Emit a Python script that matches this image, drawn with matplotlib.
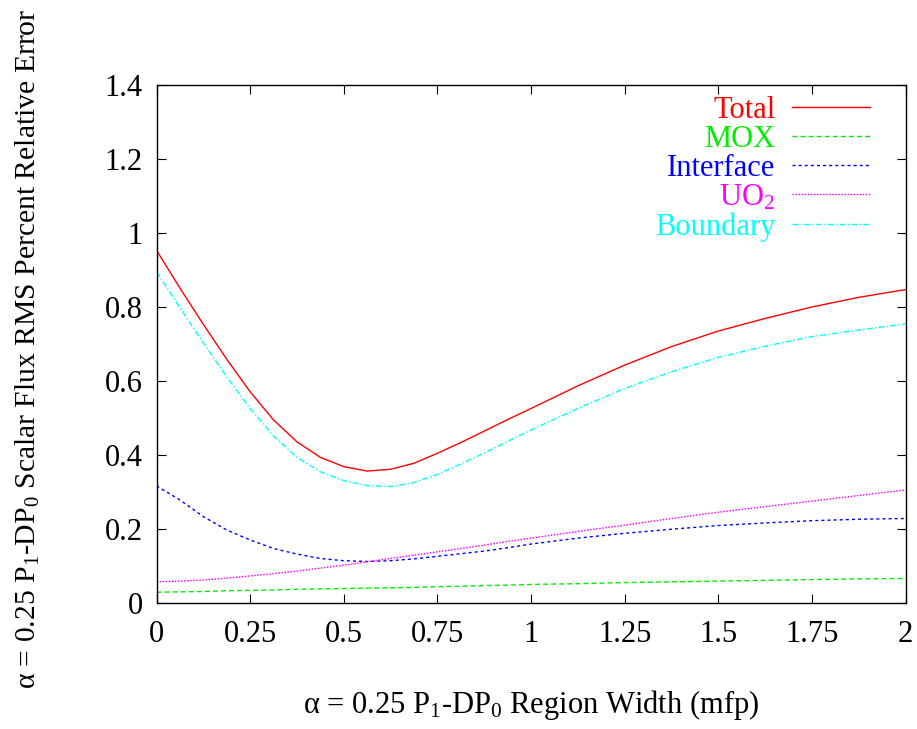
import matplotlib
matplotlib.use("Agg")
import matplotlib.pyplot as plt

plt.rcParams['font.family'] = ['Liberation Serif', 'DejaVu Serif']
plt.rcParams['mathtext.fontset'] = 'custom'
plt.rcParams['mathtext.rm'] = 'Liberation Serif'
plt.rcParams['mathtext.it'] = 'Liberation Serif:italic'
plt.rcParams['mathtext.default'] = 'regular'

# region width (mfp)
width = [0, 0.0625, 0.125, 0.1875, 0.25, 0.3125, 0.375, 0.4375, 0.5, 0.5625,
         0.625, 0.6875, 0.75, 0.8125, 0.875, 0.9375, 1.0, 1.125, 1.25, 1.375,
         1.5, 1.625, 1.75, 1.875, 2.0]

total = [0.953, 0.851, 0.753, 0.659, 0.571, 0.495, 0.436, 0.394, 0.369, 0.357,
         0.362, 0.378, 0.405, 0.434, 0.465, 0.496, 0.526, 0.587, 0.643, 0.693,
         0.735, 0.769, 0.800, 0.826, 0.847]
mox = [0.030, 0.031, 0.032, 0.034, 0.035, 0.036, 0.038, 0.039, 0.040, 0.041,
       0.042, 0.043, 0.045, 0.046, 0.048, 0.049, 0.051, 0.053, 0.056, 0.058,
       0.060, 0.062, 0.064, 0.066, 0.067]
interface = [0.317, 0.279, 0.234, 0.198, 0.171, 0.148, 0.133, 0.121, 0.115, 0.113,
             0.115, 0.120, 0.127, 0.134, 0.141, 0.150, 0.160, 0.176, 0.189, 0.200,
             0.210, 0.217, 0.223, 0.227, 0.229]
uo2 = [0.058, 0.060, 0.063, 0.068, 0.074, 0.080, 0.087, 0.095, 0.103, 0.112,
       0.121, 0.130, 0.139, 0.148, 0.157, 0.167, 0.176, 0.194, 0.211, 0.229,
       0.246, 0.261, 0.276, 0.291, 0.306]
boundary = [0.895, 0.798, 0.703, 0.611, 0.526, 0.452, 0.394, 0.355, 0.331, 0.318,
            0.315, 0.326, 0.348, 0.376, 0.406, 0.437, 0.468, 0.526, 0.580, 0.625,
            0.664, 0.694, 0.720, 0.738, 0.754]

fig = plt.figure(figsize=(9.17, 7.29), dpi=100)
ax = fig.add_axes([0.1707, 0.1724, 0.8168, 0.7114])

ax.plot(width, total, color='#ff0000', lw=1.0, label='Total')
ax.plot(width, mox, color='#00ee00', lw=1.0, dashes=(3.6, 2.2), label='MOX')
ax.plot(width, interface, color='#0000ff', lw=1.0, dashes=(2.2, 2.2), label='Interface')
ax.plot(width, uo2, color='#ff00ff', lw=1.0, dashes=(1.1, 1.1), label='UO$_2$')
ax.plot(width, boundary, color='#00ffff', lw=1.0, dashes=(4.3, 1.6, 1.0, 1.6), label='Boundary')

ax.set_xlim(0, 2)
ax.set_ylim(0, 1.4)
ax.set_xticks([0, 0.25, 0.5, 0.75, 1, 1.25, 1.5, 1.75, 2])
ax.set_xticklabels(['0', '0.25', '0.5', '0.75', '1', '1.25', '1.5', '1.75', '2'])
ax.set_yticks([0, 0.2, 0.4, 0.6, 0.8, 1.0, 1.2, 1.4])
ax.set_yticklabels(['0', '0.2', '0.4', '0.6', '0.8', '1', '1.2', '1.4'])
ax.tick_params(direction='in', length=6.5, width=0.8, top=True, right=True,
               labelsize=22, pad=10)
ax.tick_params(axis='x', pad=12)
for s in ax.spines.values():
    s.set_linewidth(1.0)

ax.set_xlabel('α = 0.25 P$_1$-DP$_0$ Region Width (mfp)', fontsize=22, labelpad=28)
ax.set_ylabel('α = 0.25 P$_1$-DP$_0$ Scalar Flux RMS Percent Relative Error',
              fontsize=21.3, labelpad=45)
ax.yaxis.label.set_y(0.49)

ax.legend(loc='upper right', bbox_to_anchor=(0.9526, 0.979), frameon=False,
          markerfirst=False, labelcolor='linecolor', fontsize=22,
          handlelength=2.55, handletextpad=0.55, labelspacing=0.0, borderpad=0,
          borderaxespad=0)

fig.savefig('out.png', dpi=100)
